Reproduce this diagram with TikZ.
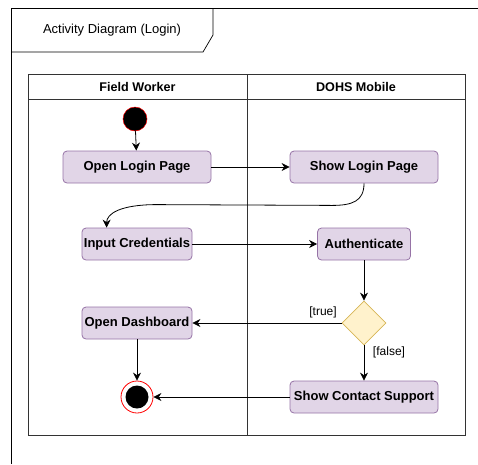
\documentclass[tikz,border=0pt]{standalone}
\usepackage{fontspec}
\setmainfont{Liberation Sans}
\usetikzlibrary{arrows.meta,shapes.geometric,calc}
\definecolor{actfill}{HTML}{E1D5E7}
\definecolor{actline}{HTML}{9673A6}
\definecolor{decfill}{HTML}{FFF2CC}
\definecolor{decline}{HTML}{D6B656}
\definecolor{laneline}{HTML}{333333}
\tikzset{
  action/.style={draw=actline,fill=actfill,rounded corners=4pt,line width=0.8pt,
    minimum height=32pt,inner sep=1pt,font=\fontsize{13}{15}\selectfont\bfseries},
  decision/.style={diamond,draw=decline,fill=decfill,line width=0.8pt,
    minimum width=44pt,minimum height=44pt,inner sep=0pt},
  flow/.style={-{Stealth[length=8pt,width=8pt]},line width=0.8pt},
  guard/.style={font=\fontsize{12}{14}\selectfont,inner sep=1pt},
}
\begin{document}
\begin{tikzpicture}[x=1pt,y=-1pt]
\useasboundingbox (0,0) rectangle (478,464);
% frame with title tab
\draw[line width=0.9pt] (11,464) -- (11,8) -- (478,8);
\draw[line width=0.7pt] (11,52) -- (203,52) -- (213,35) -- (213,8);
\node[font=\fontsize{13}{15}\selectfont] (title) at (112,30) {Activity Diagram (Login)};
% swimlanes
\draw[draw=laneline,line width=1pt] (28,74) rectangle (465,435);
\draw[draw=laneline,line width=0.8pt] (28,99) -- (465,99);
\draw[draw=laneline,line width=1pt] (247,74) -- (247,435);
\node[font=\fontsize{12.6}{14}\selectfont\bfseries] (laneA) at (137.5,86.5) {Field Worker};
\node[font=\fontsize{12.6}{14}\selectfont\bfseries] (laneB) at (356,86.5) {DOHS Mobile};
% nodes
\node[circle,fill=black,draw=red,line width=0.5pt,minimum size=24pt,inner sep=0pt] (start) at (135,119) {};
\node[action,minimum width=148pt] (openlogin) at (137,167) {Open Login Page};
\node[action,minimum width=148pt] (showlogin) at (364,167) {Show Login Page};
\node[action,minimum width=110pt] (inputcred) at (137,244) {Input Credentials};
\node[action,minimum width=93pt] (auth) at (364,244) {Authenticate};
\node[decision] (check) at (364,323) {};
\node[action,minimum width=110pt] (dashboard) at (137,323) {Open Dashboard};
\node[action,minimum width=148pt] (support) at (364,397) {Show Contact Support};
\node[circle,draw=red,fill=white,line width=0.8pt,minimum size=32pt,inner sep=0pt] (finish) at (137,397) {};
\node[circle,fill=black,minimum size=23pt,inner sep=0pt] (finishdot) at (finish) {};
% connectors
\draw[flow] (start) -- (openlogin);
\draw[flow] (openlogin) -- (showlogin);
\coordinate (credin) at ($(inputcred.north west)+(25,0)$);
\draw[flow] (showlogin.south) .. controls ($(showlogin.south)+(0,18)$) and ($(showlogin.south)+(-12,22)$) .. ($(showlogin.south)+(-32,22)$)
  -- ($(credin)+(50,-23)$) .. controls ($(credin)+(14,-23)$) and ($(credin)+(0,-14)$) .. (credin);
\draw[flow] (inputcred) -- (auth);
\draw[flow] (auth) -- (check);
\draw[flow] (check) -- (dashboard);
\draw[flow] (check) -- (support);
\draw[flow] (support) -- (finish);
\draw[flow] (dashboard) -- (finish);
\node[guard] (truelbl) at (323,312) {[true]};
\node[guard] (falselbl) at (389,352) {[false]};
\end{tikzpicture}
\end{document}
